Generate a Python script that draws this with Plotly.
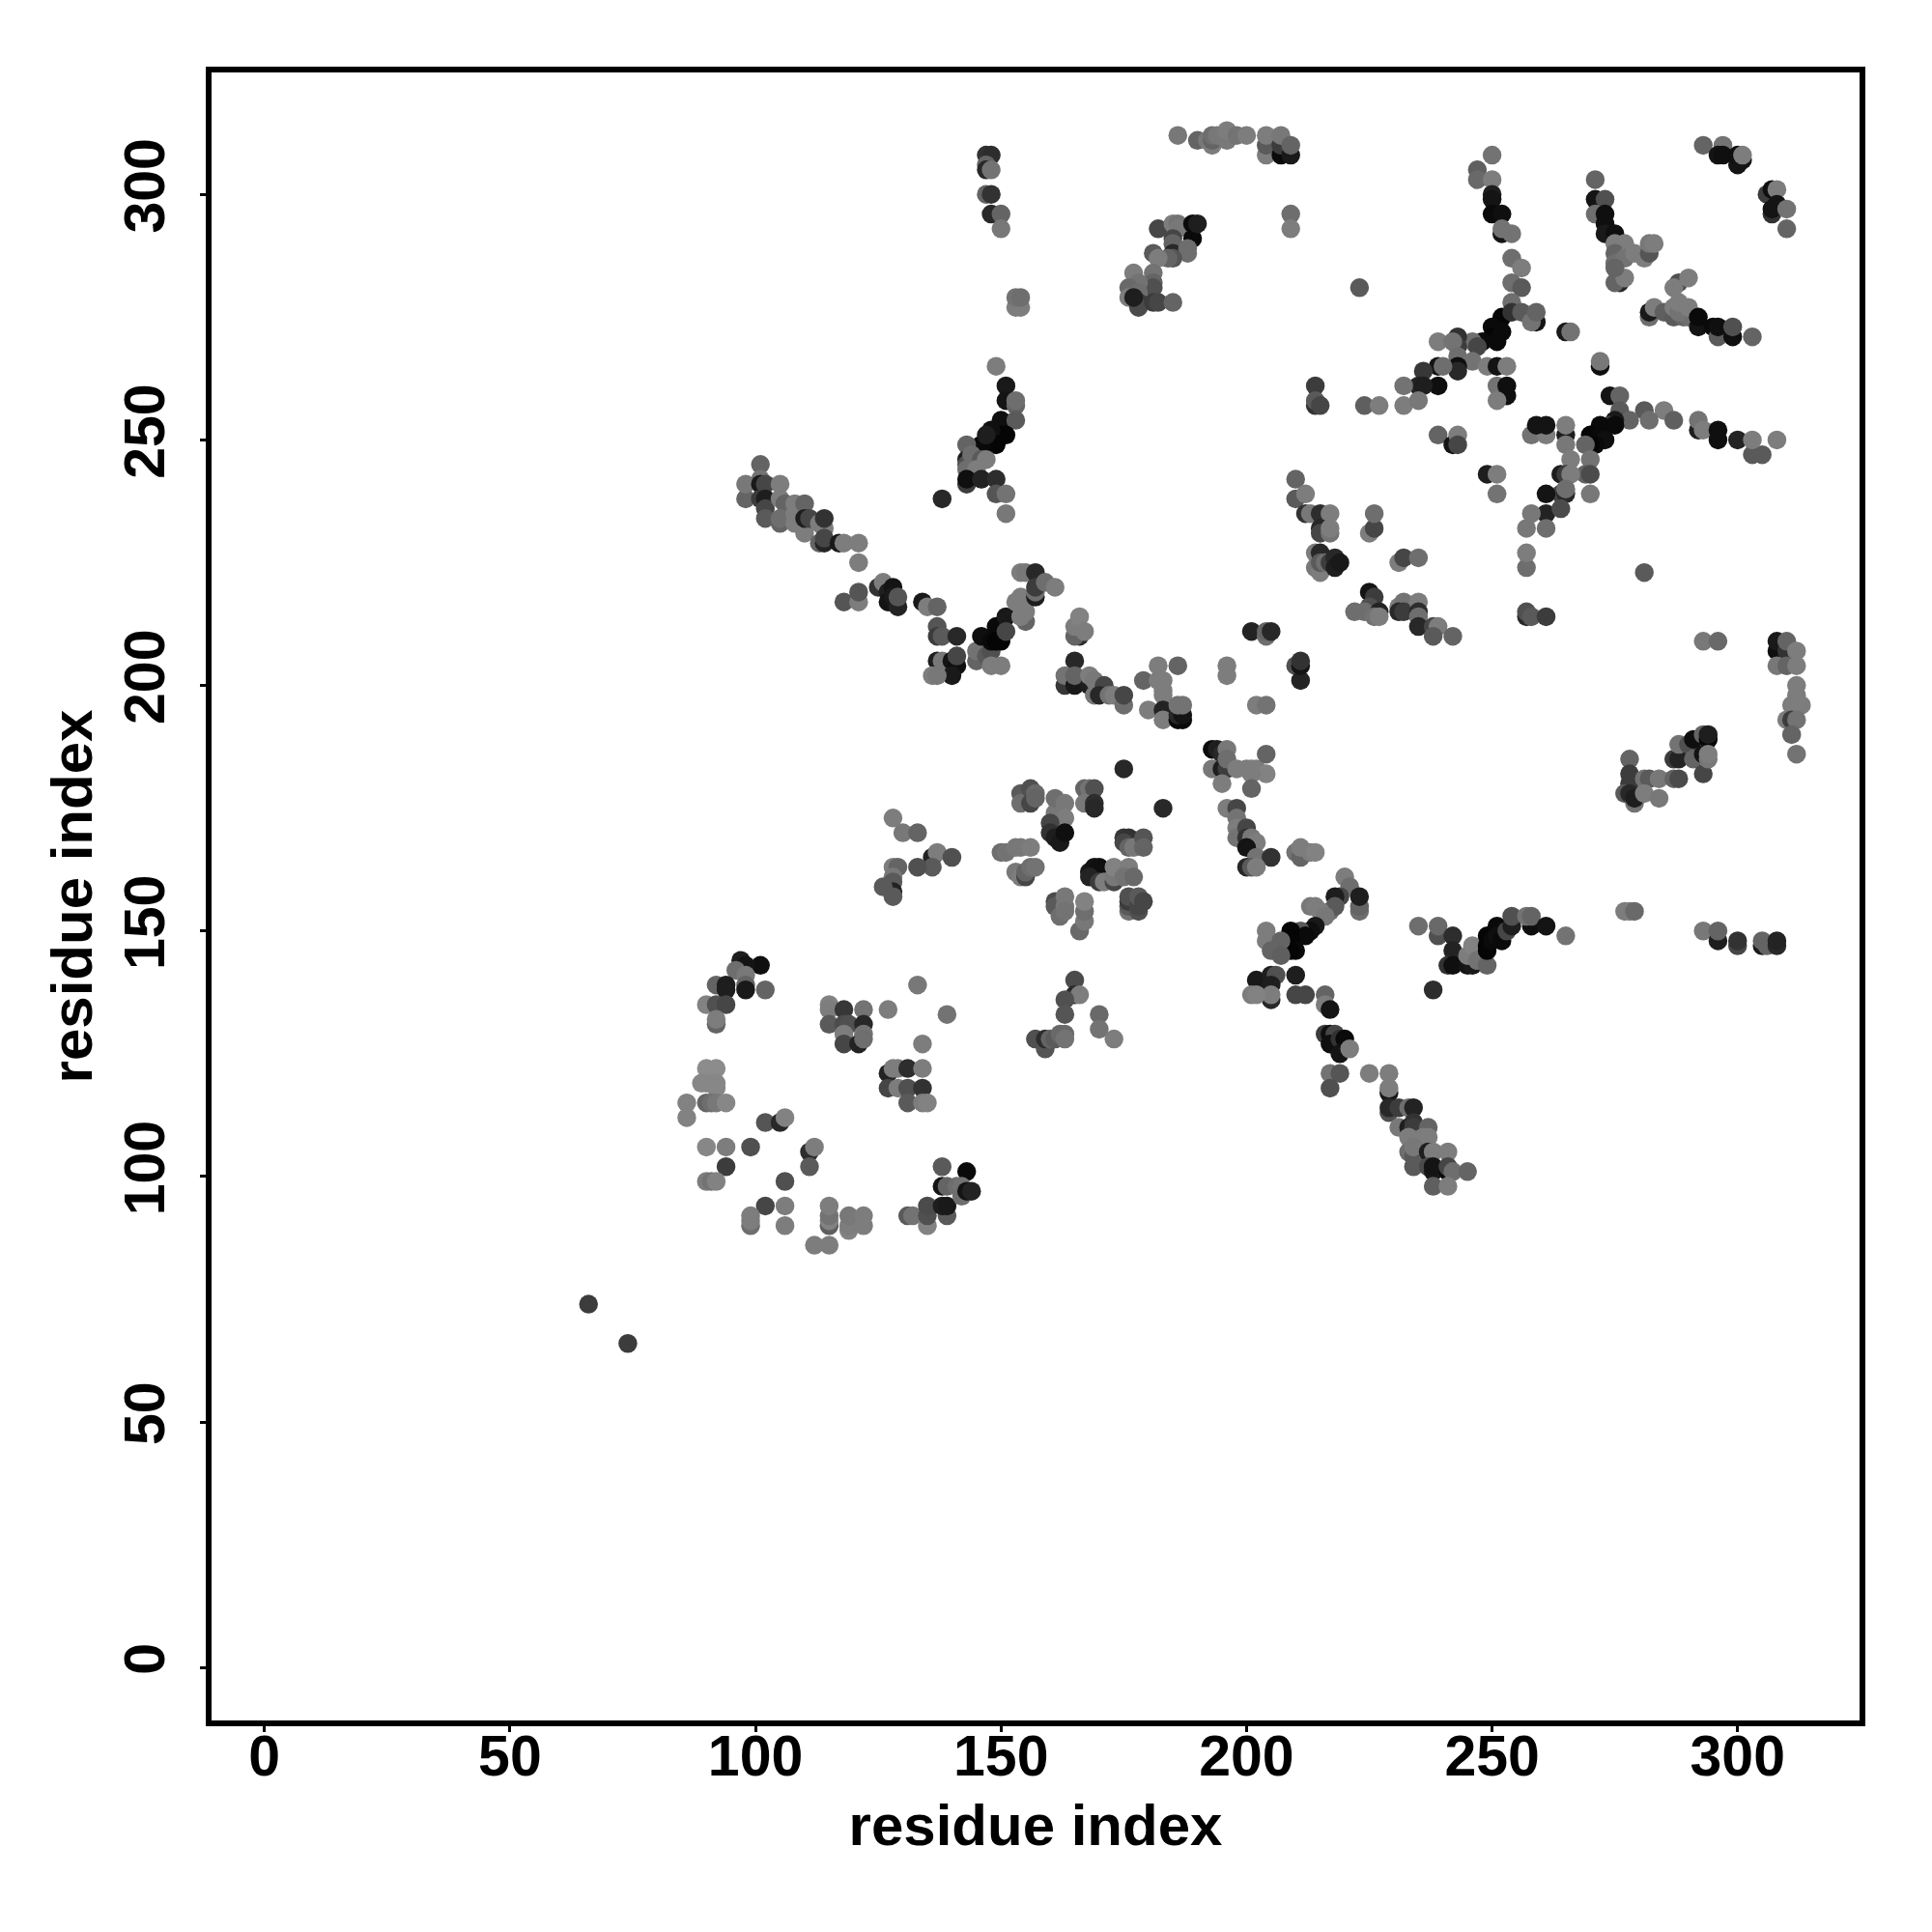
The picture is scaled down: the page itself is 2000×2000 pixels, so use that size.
import plotly.graph_objects as go

# contacts: (residue i, residue j, grey level)
isolated = [(66, 74, 60), (74, 66, 60), (138, 238, 40), (238, 138, 45), (223, 281, 90), (281, 223, 90),
            (175, 183, 40), (183, 175, 40)]
lower_a = [(97, 144, 30), (101, 143, 15), (98, 143, 20), (96, 142, 110), (98, 141, 120), (92, 139, 100), (94, 139, 30),
           (94, 138, 30), (98, 139, 100), (98, 138, 25), (102, 138, 100), (90, 135, 130), (92, 135, 80), (94, 135, 70),
           (92, 131, 100), (92, 132, 125)]
lower_b = [(133, 139, 120), (115, 135, 130), (115, 134, 125), (118, 134, 55), (122, 134, 115), (127, 134, 125),
           (139, 133, 115), (115, 131, 90), (118, 131, 75), (119, 131, 80), (122, 131, 40), (118, 129, 125),
           (122, 129, 115), (118, 127, 70), (121, 127, 35), (122, 128, 110), (134, 127, 125)]
lower_c = [(127, 121, 35), (128, 122, 125), (129, 122, 125), (131, 122, 45), (134, 122, 125), (127, 118, 70),
           (129, 118, 125), (131, 118, 80), (134, 118, 50), (131, 115, 90), (134, 115, 125), (135, 115, 130)]
lower_d = [(90, 122, 140), (92, 122, 140), (89, 119, 135), (90, 119, 135), (92, 119, 135), (92, 118, 135),
           (90, 115, 100), (91, 115, 110), (92, 115, 120), (94, 115, 135), (86, 115, 130), (86, 112, 130),
           (102, 111, 85), (105, 111, 40), (106, 112, 130), (90, 106, 135), (94, 106, 125), (99, 106, 80),
           (111, 105, 45), (112, 106, 125), (111, 102, 90), (94, 102, 60), (106, 99, 80), (90, 99, 125), (91, 99, 115),
           (92, 99, 130), (102, 94, 70), (106, 94, 125), (106, 90, 125), (99, 90, 110), (99, 91, 125), (99, 92, 125)]
lower_e = [(115, 90, 95), (115, 91, 130), (115, 92, 115), (115, 94, 125), (119, 89, 130), (119, 90, 125), (119, 92, 120),
           (122, 90, 125), (122, 92, 125), (112, 86, 125), (115, 86, 125), (131, 92, 90), (132, 92, 115),
           (135, 90, 130), (135, 92, 80), (135, 94, 75), (139, 92, 90), (138, 94, 30), (139, 94, 25), (138, 102, 90),
           (143, 101, 10), (138, 98, 20), (139, 98, 100), (141, 98, 110), (142, 98, 115), (142, 96, 110), (143, 97, 20),
           (144, 97, 35)]
middle_a = [(154, 178, 90), (154, 176, 110), (156, 179, 80), (156, 176, 70), (157, 178, 105), (157, 177, 100),
            (161, 174, 120), (161, 177, 110), (163, 176, 120), (163, 173, 125), (160, 172, 70), (160, 170, 50),
            (161, 169, 30), (162, 168, 25), (163, 170, 15), (167, 179, 100), (168, 179, 115), (169, 179, 80),
            (167, 176, 120), (169, 176, 45), (169, 175, 40)]
middle_b = [(150, 166, 110), (151, 166, 115), (153, 167, 120), (154, 167, 120), (156, 167, 125), (153, 162, 120),
            (154, 161, 125), (155, 161, 70), (155, 162, 100), (156, 163, 110), (157, 163, 115), (175, 169, 55),
            (176, 169, 50), (175, 168, 70), (176, 167, 100), (177, 167, 120), (179, 169, 85), (179, 167, 100),
            (168, 162, 25), (169, 163, 20), (170, 163, 15), (168, 161, 35), (170, 160, 60), (171, 160, 125),
            (173, 160, 70), (173, 161, 120), (173, 163, 130), (176, 163, 125), (175, 161, 115), (177, 161, 105)]
middle_c = [(176, 154, 115), (176, 155, 90), (176, 156, 60), (176, 157, 80), (178, 154, 80), (178, 155, 70),
            (178, 157, 90), (179, 156, 70), (161, 156, 75), (161, 155, 90), (162, 153, 110), (163, 157, 120),
            (163, 155, 120), (163, 154, 115), (166, 150, 105), (167, 152, 120), (167, 154, 110), (167, 156, 130),
            (165, 140, 75), (165, 137, 40), (166, 137, 125), (163, 136, 80), (163, 133, 85), (170, 133, 105),
            (170, 130, 115), (173, 128, 125), (157, 128, 80), (159, 126, 85), (159, 128, 45), (160, 128, 100),
            (161, 128, 90), (162, 129, 105), (163, 129, 105), (163, 128, 115)]
middle_d = [(128, 173, 125), (130, 170, 120), (133, 170, 100), (136, 165, 35), (137, 166, 125), (140, 165, 80),
            (136, 163, 90), (133, 163, 80), (128, 163, 125), (129, 163, 100), (128, 161, 120), (128, 160, 90),
            (128, 158, 35), (126, 159, 90), (128, 157, 90)]
diag_a = [(193, 187, 10), (194, 187, 30), (195, 186, 40), (196, 187, 120), (193, 183, 120), (195, 183, 30),
          (196, 183, 60), (196, 185, 110), (198, 183, 125), (200, 183, 125), (201, 183, 125), (202, 183, 125),
          (204, 182, 130), (201, 182, 125), (204, 186, 100), (195, 180, 125), (201, 179, 100), (196, 175, 125),
          (198, 175, 70), (198, 173, 115), (198, 171, 125), (198, 169, 115), (200, 171, 70), (200, 169, 50),
          (201, 169, 120), (202, 168, 125), (200, 167, 20), (202, 165, 115), (205, 165, 50), (200, 163, 40),
          (201, 163, 90), (202, 163, 125), (210, 166, 115), (211, 165, 100), (211, 167, 125), (213, 166, 125),
          (214, 166, 130)]
diag_b = [(223, 154, 110), (223, 155, 100), (220, 161, 125), (221, 159, 110), (223, 157, 30), (219, 157, 70),
          (218, 157, 30), (217, 154, 110), (218, 155, 90), (213, 155, 120), (214, 155, 125), (215, 154, 125),
          (216, 153, 120), (214, 151, 25), (213, 150, 15), (211, 150, 90), (212, 149, 10), (209, 150, 5), (209, 148, 5),
          (210, 146, 10), (209, 146, 5), (204, 150, 125), (204, 148, 125), (207, 148, 100), (205, 146, 100),
          (207, 145, 95), (202, 140, 25), (205, 141, 30), (206, 141, 80), (210, 141, 30), (205, 139, 30),
          (205, 136, 40), (205, 137, 125), (201, 137, 125), (202, 137, 130), (210, 137, 70), (212, 137, 70),
          (216, 137, 100), (216, 135, 125), (217, 134, 20)]
diag_c = [(216, 129, 60), (217, 129, 15), (218, 129, 70), (217, 127, 15), (219, 128, 50), (220, 128, 10),
          (219, 125, 20), (221, 126, 125), (217, 121, 115), (219, 121, 85), (217, 118, 80), (225, 121, 125),
          (229, 121, 125), (229, 117, 25), (229, 118, 125), (229, 113, 80), (229, 114, 40), (231, 114, 60),
          (233, 114, 110), (234, 114, 35), (231, 110, 120), (233, 110, 30), (234, 111, 50), (234, 110, 60),
          (237, 110, 100), (233, 108, 125), (236, 108, 125), (237, 108, 125), (233, 105, 110), (234, 104, 90),
          (234, 106, 120), (234, 102, 90), (237, 105, 30), (238, 105, 125), (241, 105, 125), (237, 102, 75),
          (238, 101, 25), (238, 102, 20), (241, 101, 10), (241, 102, 70), (242, 101, 110), (245, 101, 100),
          (238, 98, 95), (241, 98, 125)]
right_a = [(235, 151, 110), (239, 149, 80), (239, 151, 105), (242, 149, 45), (242, 146, 35), (241, 143, 50),
           (242, 143, 15), (245, 143, 20), (246, 143, 25), (245, 145, 125), (246, 147, 130), (247, 144, 115),
           (249, 143, 100), (249, 149, 5), (249, 147, 5), (249, 146, 5), (250, 148, 10), (251, 151, 10), (251, 149, 15),
           (252, 148, 10), (253, 150, 70), (254, 151, 30), (254, 153, 80), (258, 151, 15), (257, 153, 115),
           (258, 153, 100), (261, 151, 20), (265, 149, 115), (277, 154, 125), (278, 154, 125), (279, 154, 105),
           (293, 150, 120), (296, 148, 30), (296, 150, 100), (300, 147, 70), (300, 148, 50), (305, 147, 25),
           (305, 148, 100), (306, 147, 100), (308, 147, 40), (308, 148, 35)]
right_b = [(278, 185, 100), (278, 182, 60), (278, 180, 60), (277, 178, 90), (278, 178, 40), (279, 176, 115),
           (279, 177, 30), (281, 181, 115), (282, 181, 90), (284, 181, 120), (281, 178, 125), (284, 177, 120),
           (287, 181, 100), (288, 181, 75), (287, 185, 60), (288, 185, 35), (288, 188, 115), (290, 188, 80),
           (291, 189, 15), (293, 190, 100), (294, 189, 5), (294, 190, 30), (291, 185, 100), (293, 182, 70),
           (293, 186, 20), (294, 185, 120), (294, 186, 125)]
right_c = [(293, 209, 120), (296, 209, 105), (308, 207, 15), (308, 209, 25), (310, 207, 50), (310, 209, 100),
           (312, 207, 125), (308, 204, 120), (310, 204, 100), (312, 204, 125), (312, 200, 125), (312, 198, 125),
           (311, 196, 125), (313, 196, 125), (310, 193, 125), (311, 193, 60), (312, 193, 115), (311, 190, 100),
           (312, 186, 115)]
upper_a = [(98, 238, 100), (98, 241, 120), (101, 245, 100), (101, 242, 115), (101, 241, 25), (102, 241, 70),
           (105, 241, 125), (101, 238, 60), (102, 238, 30), (102, 236, 70), (102, 234, 90), (105, 238, 125),
           (106, 237, 100), (105, 233, 100), (105, 234, 110), (108, 237, 125), (108, 235, 125), (108, 233, 125),
           (110, 237, 100), (110, 231, 125), (110, 234, 30), (111, 234, 70), (113, 233, 125), (114, 232, 125),
           (114, 234, 50), (113, 229, 100), (114, 229, 35), (114, 230, 70), (117, 229, 25), (118, 229, 125),
           (121, 229, 125), (121, 225, 125)]
upper_b = [(118, 217, 85), (121, 217, 125), (121, 219, 85), (125, 220, 50), (126, 221, 125), (127, 219, 30),
           (127, 217, 20), (128, 220, 20), (128, 218, 25), (129, 216, 35), (129, 218, 85), (134, 217, 25),
           (135, 216, 125), (137, 216, 100), (137, 212, 85), (137, 210, 60), (138, 210, 90), (141, 210, 40),
           (137, 205, 30), (138, 205, 120), (140, 205, 20), (141, 204, 15), (141, 206, 70), (140, 202, 25),
           (136, 202, 125), (137, 202, 120)]
upper_c = [(145, 205, 100), (145, 207, 115), (147, 206, 90), (148, 207, 80), (148, 204, 125), (150, 204, 125),
           (146, 210, 15), (148, 209, 10), (149, 212, 10), (149, 209, 5), (150, 209, 5), (151, 214, 25), (151, 211, 70),
           (155, 213, 100), (153, 217, 125), (154, 218, 125), (155, 217, 125), (155, 215, 125), (154, 214, 125),
           (154, 223, 125), (155, 223, 120), (157, 223, 40), (157, 218, 30), (157, 219, 110), (157, 220, 60),
           (159, 221, 110), (161, 220, 125), (166, 210, 45), (165, 210, 100), (165, 212, 125), (166, 214, 130),
           (167, 211, 125)]
upper_d = [(165, 205, 40), (163, 200, 55), (163, 202, 115), (165, 200, 25), (165, 202, 100), (168, 200, 30),
           (168, 202, 125), (169, 201, 120), (169, 198, 120), (171, 200, 70), (170, 198, 40), (172, 198, 115),
           (173, 198, 125), (175, 196, 110), (175, 198, 70), (182, 204, 125), (186, 204, 100), (179, 201, 100),
           (182, 201, 125), (183, 201, 125), (183, 199, 125), (183, 198, 125), (180, 195, 125), (183, 195, 35),
           (183, 193, 125), (186, 193, 10), (187, 193, 10), (186, 194, 40), (187, 194, 20), (186, 196, 115),
           (187, 196, 115), (196, 204, 125), (196, 202, 125), (202, 196, 125), (204, 196, 115), (201, 211, 35),
           (204, 210, 110), (204, 211, 100), (205, 211, 40), (210, 204, 80), (211, 201, 35), (211, 204, 20),
           (211, 205, 50)]
top_a = [(147, 308, 50), (148, 308, 45), (147, 306, 100), (147, 305, 40), (148, 305, 115), (147, 300, 100),
         (148, 300, 50), (148, 296, 40), (150, 296, 100), (150, 293, 120), (153, 277, 125), (154, 277, 125),
         (153, 279, 115), (154, 279, 110)]
top_b = [(149, 265, 125), (151, 261, 25), (151, 258, 20), (153, 257, 100), (153, 258, 110), (150, 254, 15),
         (153, 254, 90), (150, 251, 5), (151, 251, 5), (148, 252, 15), (148, 249, 5), (149, 249, 5), (146, 249, 10),
         (147, 251, 30), (143, 249, 100), (143, 246, 30), (143, 245, 80), (144, 247, 110), (146, 246, 90),
         (147, 246, 125), (143, 244, 110), (145, 244, 125), (143, 241, 60), (143, 242, 15), (146, 242, 35),
         (149, 242, 45), (149, 239, 85), (151, 239, 115), (151, 235, 120)]
top_c = [(186, 312, 120), (190, 311, 100), (192, 311, 120), (193, 310, 125), (193, 311, 100), (193, 312, 110),
         (194, 312, 120), (196, 311, 120), (196, 313, 125), (198, 312, 115), (200, 312, 125), (204, 308, 125),
         (204, 310, 90), (204, 312, 125), (207, 308, 10), (207, 310, 60), (207, 312, 120), (209, 308, 25),
         (209, 310, 100), (209, 296, 110), (209, 293, 125)]
top_d = [(182, 293, 70), (185, 294, 125), (186, 294, 115), (186, 293, 120), (189, 291, 10), (189, 294, 10),
         (190, 294, 30), (185, 291, 70), (185, 290, 100), (185, 288, 40), (188, 289, 110), (188, 288, 110),
         (185, 287, 85), (184, 287, 100), (181, 288, 90), (182, 287, 125), (177, 284, 125), (181, 284, 115),
         (181, 282, 100), (181, 281, 80), (178, 282, 115), (176, 281, 105), (176, 279, 125), (178, 280, 110),
         (178, 278, 60), (178, 277, 75), (177, 279, 30), (181, 278, 60), (182, 278, 70), (185, 278, 100)]
star_a = [(293, 310, 100), (297, 310, 115), (296, 308, 20), (297, 308, 15), (300, 306, 20), (300, 308, 15),
          (301, 307, 20), (301, 308, 125), (306, 300, 60), (307, 301, 15), (308, 301, 125), (307, 296, 50),
          (307, 297, 20), (308, 298, 20), (310, 297, 115), (310, 293, 100), (247, 305, 95), (247, 303, 105),
          (250, 308, 115), (250, 303, 125), (250, 300, 30), (250, 299, 20), (250, 296, 10), (252, 296, 15),
          (252, 292, 20), (252, 293, 115), (254, 292, 115), (254, 287, 110), (256, 285, 125), (254, 282, 110),
          (256, 281, 90), (254, 278, 110)]
star_b = [(252, 275, 5), (254, 276, 50), (256, 276, 90), (259, 274, 20), (258, 274, 115), (259, 276, 100),
          (250, 273, 10), (250, 271, 5), (251, 270, 10), (252, 272, 10), (248, 270, 10), (246, 270, 110),
          (247, 269, 70), (243, 271, 50), (243, 269, 60), (239, 270, 125), (242, 270, 115), (243, 267, 110),
          (246, 266, 115), (249, 265, 125), (251, 265, 20), (253, 265, 125), (243, 265, 15), (243, 264, 40),
          (239, 265, 20), (240, 265, 110), (236, 264, 55), (239, 261, 15), (235, 261, 35), (236, 261, 30),
          (232, 261, 115), (232, 257, 125), (235, 258, 120), (224, 257, 95), (227, 257, 125), (214, 261, 60),
          (214, 257, 50), (214, 258, 90), (215, 257, 70)]
star_c = [(265, 272, 25), (266, 272, 115), (272, 265, 15), (272, 266, 120), (251, 261, 115), (253, 259, 15),
          (253, 261, 15), (251, 258, 125), (274, 259, 20), (276, 259, 100), (276, 256, 90), (281, 256, 90),
          (285, 256, 125), (282, 254, 110), (287, 254, 95), (278, 254, 100), (292, 252, 30), (292, 254, 115),
          (293, 252, 125), (296, 252, 15), (296, 250, 15), (300, 250, 35), (303, 247, 90), (305, 247, 90),
          (303, 250, 125), (308, 250, 125), (258, 251, 115), (261, 251, 125), (259, 253, 20), (261, 253, 20),
          (265, 251, 30), (265, 253, 125), (265, 249, 120)]
star_d = [(275, 254, 25), (274, 253, 60), (272, 253, 10), (275, 253, 10), (270, 251, 5), (272, 251, 10), (273, 250, 15),
          (271, 249, 10), (270, 249, 5), (269, 249, 100), (270, 246, 115), (269, 243, 100), (270, 243, 75),
          (270, 239, 120), (266, 246, 125), (264, 243, 30), (265, 243, 60), (266, 243, 125), (264, 239, 70),
          (265, 239, 40), (265, 240, 110), (261, 239, 20), (261, 235, 35), (264, 236, 75), (261, 232, 110),
          (257, 232, 120), (258, 235, 120), (257, 224, 110), (257, 227, 125), (239, 251, 100), (242, 249, 20),
          (243, 251, 125), (243, 249, 70), (249, 243, 30), (251, 243, 125), (251, 239, 115), (257, 214, 40),
          (257, 215, 80), (258, 214, 90), (261, 214, 60)]
star_e = [(271, 303, 100), (271, 299, 20), (273, 299, 80), (271, 296, 110), (273, 296, 15), (273, 294, 15),
          (273, 292, 25), (275, 292, 15), (275, 290, 125), (277, 290, 125), (275, 288, 100), (275, 286, 110),
          (278, 288, 125), (277, 287, 115), (279, 288, 125), (281, 287, 125), (282, 288, 85), (282, 290, 120),
          (283, 290, 125), (276, 282, 40), (275, 282, 100), (277, 283, 125), (275, 285, 100), (282, 275, 110),
          (282, 276, 25), (283, 277, 125), (285, 276, 95), (288, 282, 80), (287, 281, 125), (290, 283, 125),
          (287, 275, 90), (289, 275, 100), (290, 275, 110), (287, 277, 125), (288, 276, 115), (288, 278, 125),
          (290, 277, 125), (292, 273, 20), (292, 275, 10), (295, 273, 10), (296, 271, 90), (296, 273, 15),
          (299, 271, 15), (299, 273, 80), (303, 271, 100)]
mid_right = [(210, 242, 100), (210, 238, 90), (212, 235, 50), (212, 239, 125), (213, 235, 120), (215, 235, 45),
             (217, 235, 125), (215, 232, 40), (215, 231, 70), (217, 231, 115), (217, 232, 125), (225, 231, 125),
             (226, 232, 70), (226, 235, 110), (214, 224, 120), (215, 223, 125), (214, 227, 125), (215, 227, 40),
             (215, 225, 90), (216, 225, 110), (217, 225, 60), (218, 226, 40), (218, 224, 30), (219, 225, 25),
             (231, 225, 125), (232, 226, 70), (235, 226, 110), (225, 219, 20), (226, 218, 60), (225, 216, 80),
             (222, 215, 110), (224, 215, 110), (227, 215, 35), (226, 214, 115), (227, 214, 125), (231, 216, 125),
             (232, 217, 115), (231, 215, 40), (232, 215, 60), (235, 217, 125), (235, 215, 45), (235, 214, 110),
             (235, 212, 40), (238, 212, 70), (239, 212, 125), (238, 210, 90), (242, 210, 100)]

clusters = [isolated, lower_a, lower_b, lower_c, lower_d, lower_e, middle_a, middle_b, middle_c, middle_d,
            diag_a, diag_b, diag_c, right_a, right_b, right_c, upper_a, upper_b, upper_c, upper_d,
            top_a, top_b, top_c, top_d, star_a, star_b, star_c, star_d, star_e, mid_right]
tick_values = [0, 50, 100, 150, 200, 250, 300]
x_title = "residue index"
y_title = "residue index"

points = [p for c in clusters for p in c]
tick_font = dict(family="Liberation Sans", size=59, color="black", weight="bold")
title_font = dict(family="Liberation Sans", size=60, color="black", weight="bold")

fig = go.Figure(go.Scatter(
    x=[p[0] for p in points], y=[p[1] for p in points], mode="markers",
    marker=dict(size=19.5, color=[f"rgb({p[2]},{p[2]},{p[2]})" for p in points], line=dict(width=0)),
))
axis = dict(showgrid=False, zeroline=False, showline=True, mirror=True, linecolor="black", linewidth=6,
            ticks="outside", ticklen=6, tickwidth=3, tickcolor="black", tickvals=tick_values, tickfont=tick_font)
fig.update_layout(
    width=2000, height=2000, autosize=False, paper_bgcolor="white", plot_bgcolor="white", showlegend=False,
    margin=dict(l=211, r=83, t=67, b=227, pad=0),
    xaxis=dict(range=[-10.77, 324.83], ticklabelstandoff=-26, title=dict(text=x_title, font=title_font, standoff=20), **axis),
    yaxis=dict(range=[-10.77, 324.83], ticklabelstandoff=13, title=dict(text=y_title, font=title_font, standoff=4), tickangle=-90, **axis),
)
fig.write_html("out.html")
